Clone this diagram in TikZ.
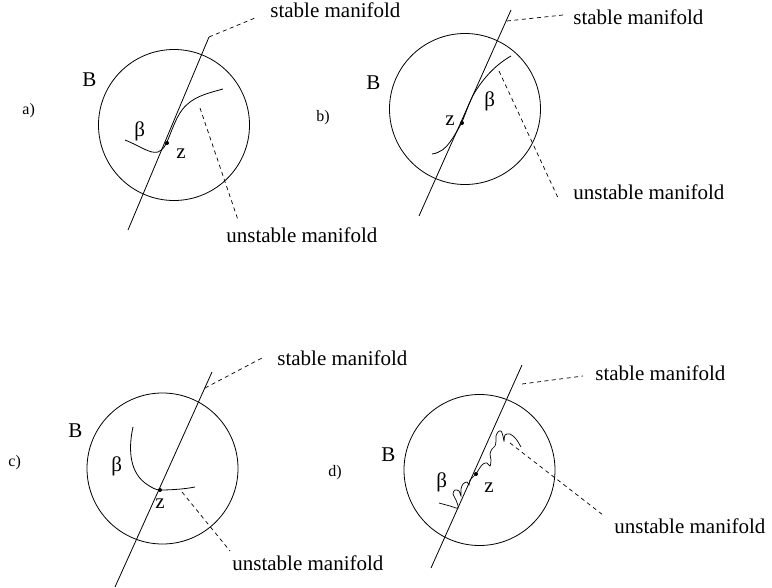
\documentclass[tikz,border=0pt]{standalone}
\usepackage{fontspec}
\setmainfont{Liberation Serif}
\begin{document}
\begin{tikzpicture}[x=1pt,y=-1pt, line width=0.8pt,
  lbl/.style={anchor=base west, inner sep=0pt, font=\fontsize{21}{24}\selectfont},
  plbl/.style={anchor=base west, inner sep=0pt, font=\fontsize{16}{19}\selectfont},
  dsh/.style={dash pattern=on 4pt off 3.5pt, line width=0.7pt},
  zdot/.style={circle, fill, inner sep=0pt, minimum size=4pt},
  ball/.style={draw, circle, inner sep=0pt, minimum size=151pt}]
\useasboundingbox (0,0) rectangle (772,588);

% ---------------- panel a ----------------
\node[ball] (aB) at (174,125) {};
\coordinate (aL0) at (209,37);
\coordinate (aL1) at (128,230);
\draw (aL0) -- (aL1);
\coordinate (aSd) at (255,18);
\draw[dsh] (aL0) -- (aSd);
\coordinate (aU0) at (200,108);
\coordinate (aU1) at (238,220);
\draw[dsh] (aU0) -- (aU1);
\draw (125,140) .. controls (142,147) and (150,154) .. (158,152)
  .. controls (163,150) and (165,146) .. (167,142)
  .. controls (172,130) and (176,118) .. (182,110)
  .. controls (192,97) and (205,94) .. (223,89);
\node[zdot] (az) at (167,143) {};
\node[lbl] (atS) at (270,18) {stable manifold};
\node[lbl] (atU) at (226,243) {unstable manifold};
\node[lbl] (atB) at (82,87) {B};
\node[plbl] (atp) at (22,115) {a)};
\node[lbl] (atb) at (134,137) {β};
\node[lbl] (atz) at (176,159) {z};

% ---------------- panel b ----------------
\node[ball] (bB) at (465,109) {};
\coordinate (bL0) at (511,10);
\coordinate (bL1) at (419,216);
\draw (bL0) -- (bL1);
\coordinate (bS0) at (507,21);
\coordinate (bSd) at (563,15);
\draw[dsh] (bS0) -- (bSd);
\coordinate (bU0) at (499,71);
\coordinate (bU1) at (559,200);
\draw[dsh] (bU0) -- (bU1);
\draw (432,154) .. controls (440,153) and (446,148) .. (450,142)
  .. controls (455,135) and (459,128) .. (462,122)
  .. controls (467,110) and (470,100) .. (475,92)
  .. controls (485,76) and (497,64) .. (511,56);
\node[zdot] (bz) at (462,123) {};
\node[lbl] (btS) at (573,25) {stable manifold};
\node[lbl] (btU) at (573,200) {unstable manifold};
\node[lbl] (btB) at (366,90) {B};
\node[plbl] (btp) at (316,122) {b)};
\node[lbl] (btb) at (484,107) {β};
\node[lbl] (btz) at (445,126) {z};

% ---------------- panel c ----------------
\node[ball] (cB) at (162.5,468.5) {};
\coordinate (cL0) at (212,372);
\coordinate (cL1) at (115,587);
\draw (cL0) -- (cL1);
\coordinate (cS0) at (205,388);
\coordinate (cSd) at (262,358);
\draw[dsh] (cS0) -- (cSd);
\coordinate (cU0) at (182,492);
\coordinate (cU1) at (230,551);
\draw[dsh] (cU0) -- (cU1);
\draw (133,427) .. controls (129,445) and (128,470) .. (145,483)
  .. controls (152,488) and (156,490) .. (160,490)
  .. controls (172,490) and (185,489) .. (195,487);
\node[zdot] (cz) at (160,490) {};
\node[lbl] (ctS) at (277,366) {stable manifold};
\node[lbl] (ctU) at (232,570) {unstable manifold};
\node[lbl] (ctB) at (68,438) {B};
\node[plbl] (ctp) at (8,466) {c)};
\node[lbl] (ctb) at (111,471) {β};
\node[lbl] (ctz) at (155,508) {z};

% ---------------- panel d ----------------
\node[ball] (dB) at (479.5,470) {};
\coordinate (dL0) at (522,365);
\coordinate (dL1) at (431,568);
\draw (dL0) -- (dL1);
\coordinate (dS0) at (522,384);
\coordinate (dSd) at (583,376);
\draw[dsh] (dS0) -- (dSd);
\coordinate (dU0) at (510,443);
\coordinate (dU1) at (603,515);
\draw[dsh] (dU0) -- (dU1);
\draw[line width=0.7pt] plot[smooth, tension=0.55] coordinates {
  (439,503) (450,506) (458,508) (456,500) (453,494) (455,490) (459,491)
  (461,496) (461,489) (463,484) (467,482) (469,485) (470,480) (473,477)
  (476,474) (479,469) (483,464) (487,463) (490,466) (491,460) (490,454)
  (492,449) (495,446) (496,441) (496,436) (498,432) (501,431) (503,436)
  (504,441) (505,435) (510,434) (516,439) (521,447)};
\node[zdot] (dz) at (476,474) {};
\node[lbl] (dtS) at (595,381) {stable manifold};
\node[lbl] (dtU) at (614,533) {unstable manifold};
\node[lbl] (dtB) at (381,461) {B};
\node[plbl] (dtp) at (328,476) {d)};
\node[lbl] (dtb) at (436,487) {β};
\node[lbl] (dtz) at (484,492) {z};
\end{tikzpicture}
\end{document}
